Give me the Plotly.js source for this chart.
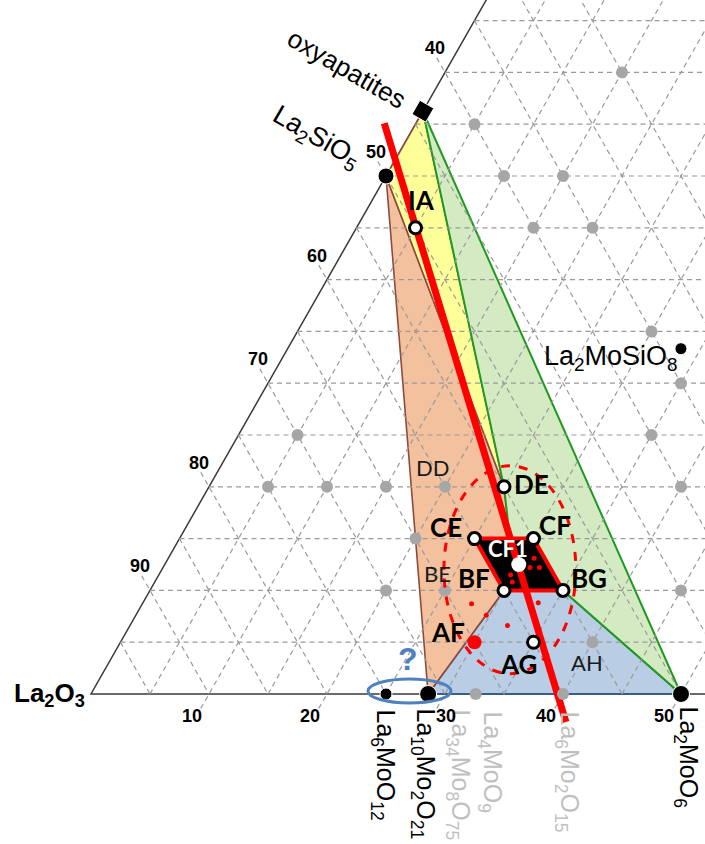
<!DOCTYPE html>
<html><head><meta charset="utf-8">
<script src="https://cdn.plot.ly/plotly-3.0.1.min.js"></script>
<style>html,body{margin:0;padding:0;background:#fff}#chart{width:705px;height:844px}</style>
</head><body><div id="chart"></div>
<script>
// ---- DATA: compositions in mol% [MoO3, SiO2]; La2O3 = remainder ----
const compoundNames = ['La2SiO5', 'oxyapatites', 'La6MoO12', 'La10Mo2O21', 'La2MoO6', 'La2MoSiO8'];
const compoundMoO3  = [0,     0,     25,  28.57, 50,  33.33];
const compoundSiO2  = [50,    56.25, 0,   0,     0,   33.33];

const sampleNames = ['IA', 'DE', 'CE', 'CF', 'BF', 'BG', 'AG'];
const sampleMoO3  = [5,  25, 25, 30, 30, 35, 35];
const sampleSiO2  = [45, 20, 15, 15, 10, 10, 5];

const afMoO3 = [30], afSiO2 = [5];          // AF (red)
const cf1MoO3 = [30], cf1SiO2 = [12.5];     // CF1 (white)

// other (grey) reference compositions
const greyMoO3 = [15, 5, 10, 15, 15, 20, 30, 35, 35, 40, 15, 20, 20, 5, 5, 10, 20, 25, 45, 40, 32.6, 40];
const greySiO2 = [60, 55, 50, 50, 45, 45, 35, 30, 25, 20, 20, 20, 15, 25, 20, 20, 10, 10, 10, 5, 0, 0];

// small red dots (impurity observations)
const redDotMoO3 = [31.0, 31.9, 31.1, 30.4, 29.8, 30.3, 33.5, 27.9, 29.7, 32.0];
const redDotSiO2 = [13.1, 12.2, 12.2, 11.9, 11.5, 10.8, 8.8, 8.7, 7.6, 6.6];

// phase-field vertices, by name
const extraPoints = {Q: [28, 15]};
const yellowField = ['oxyapatites', 'La2SiO5', 'DE'];
const orangeField = ['La2SiO5', 'La10Mo2O21', 'BF', 'Q', 'DE'];
const greenField  = ['oxyapatites', 'DE', 'Q', 'BG', 'La2MoO6'];
const blueField   = ['La10Mo2O21', 'BF', 'BG', 'La2MoO6'];
const blackField  = ['CE', 'CF', 'BG', 'BF'];

// red tie line through IA and CF1 (end compositions)
const redLineMoO3 = [-2.7, 41.6];
const redLineSiO2 = [55.1, -2.7];

// axis ticks
const bottomTicks = [10, 20, 30, 40, 50];       // MoO3 %
const leftTicks   = [90, 80, 70, 60, 50, 40];   // La2O3 %

// ---- geometry helpers ----
const SQ = Math.sqrt(3) / 2;
const cx = (m, s) => m + s / 2;
const cy = s => s * SQ;
const W = 705, H = 844;
const OX = 91, OY = 694, KX = 11.8, KY = 11.963;
const P = (x, y) => ({x: x / W, y: 1 - y / H, xref: 'paper', yref: 'paper'});

const lookup = {};
compoundNames.forEach((n, i) => lookup[n] = [compoundMoO3[i], compoundSiO2[i]]);
sampleNames.forEach((n, i) => lookup[n] = [sampleMoO3[i], sampleSiO2[i]]);
Object.assign(lookup, extraPoints);

function poly(names, fill, lineColor, lw) {
  const xs = [], ys = [];
  names.concat([names[0]]).forEach(n => { const c = lookup[n]; xs.push(cx(c[0], c[1])); ys.push(cy(c[1])); });
  return {type: 'scatter', mode: 'lines', x: xs, y: ys, fill: 'toself', fillcolor: fill,
          line: {color: lineColor, width: lw}, hoverinfo: 'skip'};
}
function pts(ms, ss, marker) {
  return {type: 'scatter', mode: 'markers', hoverinfo: 'skip',
    x: ms.map((m, i) => cx(m, ss[i])), y: ss.map(cy), marker: Object.assign({opacity: 1}, marker)};
}

const traces = [];
// axes
traces.push({type: 'scatter', mode: 'lines', hoverinfo: 'skip',
  x: [cx(0, 75), cx(0, 0), cx(60, 0)], y: [cy(75), cy(0), cy(0)],
  line: {color: '#3a3a3a', width: 1.5}});
// phase fields
traces.push(poly(blueField, '#B9CDE5', '#385D8A', 2));
traces.push(poly(orangeField, '#F3C19D', '#8E4A3E', 1.6));
traces.push(poly(yellowField, '#FFFF99', '#8E4A3E', 1.6));
traces.push(poly(greenField, '#D4EAC2', '#1F9A1F', 2));

// grid
const gx = [], gy = [];
for (let s = 5; s <= 70; s += 5) { gx.push(cx(0, s), 70, null); gy.push(cy(s), cy(s), null); }
for (let m = 5; m <= 55; m += 5) {
  const s0 = (m % 10 === 0) ? -1.4 : 0;
  gx.push(cx(m, s0), cx(m, 80), null); gy.push(cy(s0), cy(80), null);
}
for (let L = 95; L >= 25; L -= 5) {
  const m0 = (L % 10 === 0) ? -1.4 : 0;
  const s0 = 100 - L - m0;
  gx.push(cx(m0, s0), cx(100 - L, 0), null); gy.push(cy(s0), cy(0), null);
}
traces.push({type: 'scatter', mode: 'lines', x: gx, y: gy, hoverinfo: 'skip',
  line: {color: '#9a9a9a', width: 1.2, dash: '5px,4px'}});

// black quadrilateral
traces.push(poly(blackField, '#000000', '#FF0000', 4));
// red line
traces.push({type: 'scatter', mode: 'lines', hoverinfo: 'skip',
  x: redLineMoO3.map((m, i) => cx(m, redLineSiO2[i])), y: redLineSiO2.map(cy),
  line: {color: '#FF0000', width: 7}});
// small red dots
traces.push(pts(redDotMoO3, redDotSiO2, {color: '#FF0000', size: 5}));
// grey dots
traces.push(pts(greyMoO3, greySiO2, {color: '#A6A6A6', size: 12}));
// compounds
traces.push(pts(compoundMoO3, compoundSiO2, {color: '#000', size: [16, 16, 12, 17, 17, 12],
  symbol: ['circle', 'square', 'circle', 'circle', 'circle', 'circle'], angle: 30}));
// samples (open circles)
traces.push(pts(sampleMoO3, sampleSiO2, {color: '#fff', size: 12, line: {color: '#000', width: 3}}));
traces.push(pts(afMoO3, afSiO2, {color: '#FF0000', size: 14}));
traces.push(pts(cf1MoO3, cf1SiO2, {color: '#fff', size: 15}));

// ---- annotations ----
const ann = [];
const fB = (sz, col) => ({family: 'Lato, sans-serif', size: sz, color: col || '#000', weight: 700});
const fR = (sz, col) => ({family: 'Lato, sans-serif', size: sz, color: col || '#000'});
const fA = (sz, col, w) => ({family: '"Liberation Sans", Arial, sans-serif', size: sz, color: col || '#000', weight: w || 400});
function lab(text, x, y, font, extra) {
  ann.push(Object.assign({text, showarrow: false, font, xanchor: 'center', yanchor: 'middle'}, P(x, y), extra || {}));
}

// sample labels
lab('IA', 421, 200, fB(26));
lab('DE', 531, 484, fB(26));
lab('CE', 446, 527, fB(26));
lab('CF', 555, 525, fB(26));
lab('BF', 474, 578, fB(26));
lab('BG', 589, 578, fB(26));
lab('AF', 448, 632, fB(26));
lab('AG', 518, 664, fB(26));
lab('CF1', 508, 548, fB(22, '#fff'));
lab('DD', 432, 467, fR(22, '#1a1a1a'));
lab('BE', 437, 573, fR(22, '#1a1a1a'));
lab('AH', 587, 662, fR(22, '#1a1a1a'));
lab('?', 408, 659, fA(32, '#4F81BD', 700));

// compound labels
lab('oxyapatites', 347, 69, fA(26), {textangle: 30});
lab('La<sub>2</sub>SiO<sub>5</sub>', 316, 138, fA(27), {textangle: 30});
lab('La<sub>2</sub>MoSiO<sub>8</sub>', 611, 358, fA(27));
lab('La<sub>2</sub>O<sub>3</sub>', 49, 694, fA(26, '#000', 700));
const bl = [
  ['La<sub>6</sub>MoO<sub>12</sub>', 384, 707, '#000'],
  ['La<sub>10</sub>Mo<sub>2</sub>O<sub>21</sub>', 424, 706, '#000'],
  ['La<sub>34</sub>Mo<sub>8</sub>O<sub>75</sub>', 459, 707, '#BFBFBF'],
  ['La<sub>4</sub>MoO<sub>9</sub>', 491, 709, '#BFBFBF'],
  ['La<sub>6</sub>Mo<sub>2</sub>O<sub>15</sub>', 568, 709, '#BFBFBF'],
  ['La<sub>2</sub>MoO<sub>6</sub>', 687, 704, '#000']
];
bl.forEach(b => lab(b[0], b[1], b[2], fA(25, b[3]), {textangle: 90, yanchor: 'top'}));

// tick labels
bottomTicks.forEach(t => {
  const px = OX + t * KX;
  lab(String(t), px + (t === 30 ? 1 : -17), 716, fA(18, '#000', 700));
});
leftTicks.forEach(t => {
  const s = 100 - t;
  const px = OX + cx(0, s) * KX, py = OY - cy(s) * KY;
  lab(String(t), px - 10, py - 24, fA(18, '#000', 700));
});

// ---- shapes: ellipses ----
const shapes = [
  {type: 'circle', xref: 'x', yref: 'y', x0: cx(29.5, 12) - 5.59, x1: cx(29.5, 12) + 5.59,
   y0: cy(12) - 8.69, y1: cy(12) + 8.69, line: {color: '#FF0000', width: 3, dash: 'dash'}},
  {type: 'circle', xref: 'x', yref: 'y', x0: 26.99 - 3.52, x1: 26.99 + 3.52,
   y0: 0.25 - 1.0, y1: 0.25 + 1.0, line: {color: '#4F81BD', width: 3}}
];

const layout = {
  width: W, height: H, margin: {l: 0, r: 0, t: 0, b: 0},
  paper_bgcolor: '#fff', plot_bgcolor: '#fff', showlegend: false,
  xaxis: {range: [-OX / KX, (W - OX) / KX], visible: false, fixedrange: true},
  yaxis: {range: [-(H - OY) / KY, OY / KY], visible: false, fixedrange: true},
  annotations: ann, shapes: shapes
};
Plotly.newPlot('chart', traces, layout, {displayModeBar: false, staticPlot: true});
</script></body></html>
